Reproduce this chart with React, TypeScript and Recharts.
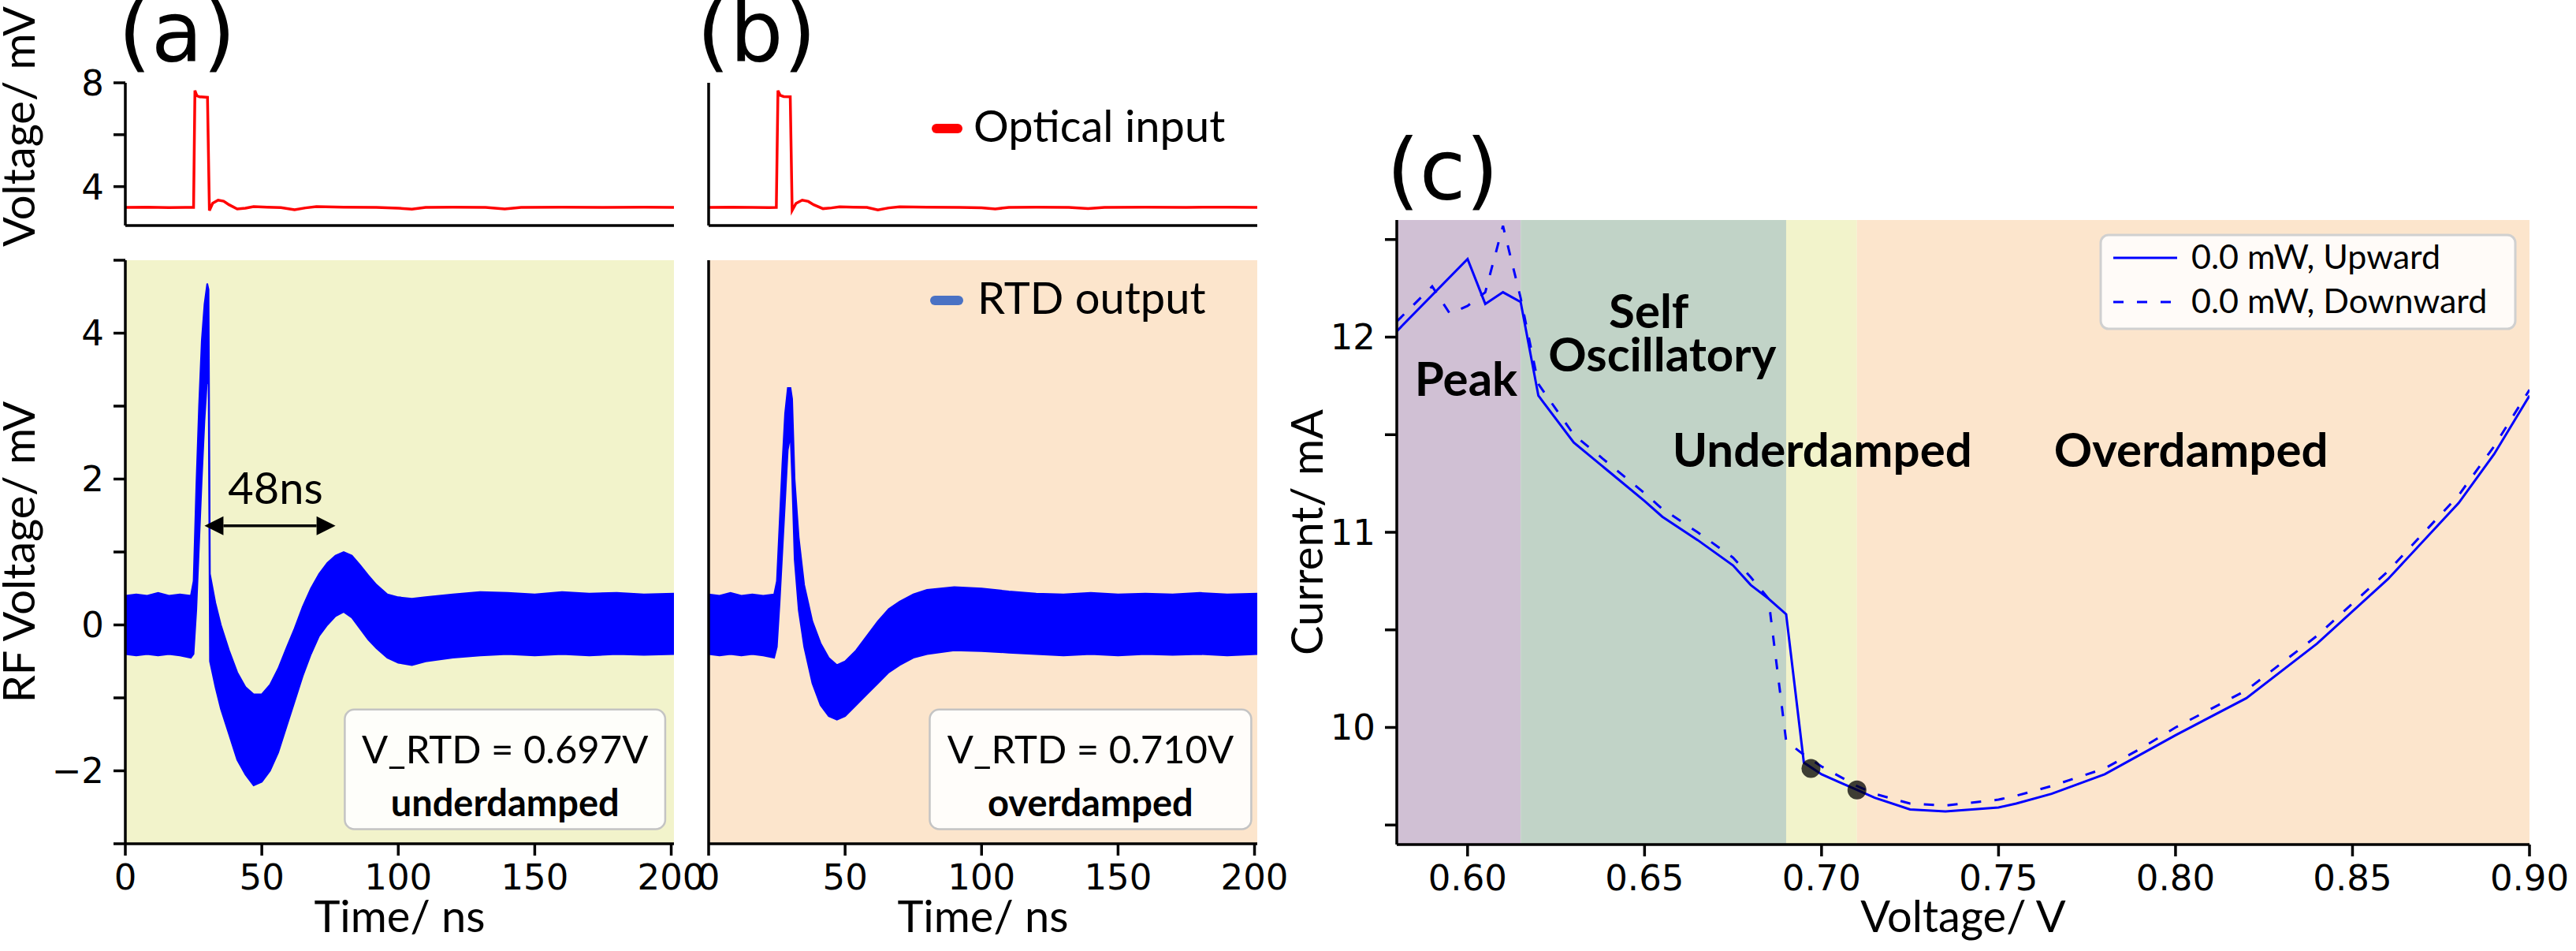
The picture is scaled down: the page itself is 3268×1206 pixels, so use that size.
import React from "react";
import {
  ComposedChart, Line, Area, XAxis, YAxis, CartesianGrid,
  ReferenceArea, ReferenceDot, ReferenceLine, Legend,
} from "recharts";

// optical input traces (ns, mV)
const optTimeA = [0, 8, 16, 22, 25.0, 25.5, 26.2, 27.2, 30.1, 30.8, 32, 34, 36, 38, 41, 44, 47, 52, 57, 62, 66, 70, 80, 92, 100, 105, 110, 120, 132, 139, 145, 160, 175, 190, 201];
const optVoltA = [3.2, 3.21, 3.19, 3.2, 3.2, 7.7, 7.5, 7.46, 7.44, 3.08, 3.36, 3.48, 3.44, 3.3, 3.14, 3.17, 3.23, 3.21, 3.19, 3.11, 3.18, 3.23, 3.21, 3.2, 3.17, 3.13, 3.2, 3.21, 3.2, 3.14, 3.2, 3.21, 3.2, 3.21, 3.2];
const optTimeB = [0, 8, 16, 22, 24.8, 25.4, 26.2, 27.5, 29.9, 30.6, 32, 34.3, 36.5, 38.5, 41.9, 45, 48, 53, 58, 62, 66, 70, 80, 92, 100, 105, 110, 120, 132, 139, 145, 160, 175, 190, 201];
const optVoltB = [3.2, 3.21, 3.2, 3.19, 3.2, 7.7, 7.52, 7.47, 7.46, 3.08, 3.35, 3.48, 3.43, 3.3, 3.15, 3.18, 3.22, 3.21, 3.2, 3.1, 3.18, 3.22, 3.21, 3.2, 3.18, 3.14, 3.2, 3.21, 3.2, 3.15, 3.2, 3.21, 3.2, 3.21, 3.2];

// RTD output: upper / lower edge of the noisy trace (ns, mV)
const rtdTimeA = [0, 4, 8, 12, 16, 20, 24, 25, 26, 27, 28, 29, 30, 30.5, 31, 33, 35, 38, 41, 44, 47, 50, 53, 56, 59, 62, 65, 68, 71, 74, 77, 80, 83, 86, 89, 92, 96, 100, 105, 110, 120, 130, 140, 150, 160, 170, 180, 190, 201];
const rtdUpA = [0.4, 0.42, 0.4, 0.44, 0.4, 0.42, 0.4, 0.6, 1.9, 3.0, 3.9, 4.4, 4.68, 4.6, 0.7, 0.3, 0.0, -0.35, -0.65, -0.85, -0.95, -0.95, -0.82, -0.6, -0.32, -0.05, 0.25, 0.5, 0.7, 0.85, 0.95, 1.0, 0.95, 0.82, 0.68, 0.55, 0.42, 0.38, 0.36, 0.38, 0.42, 0.45, 0.44, 0.42, 0.45, 0.43, 0.44, 0.42, 0.43];
const rtdLoA = [-0.4, -0.42, -0.4, -0.42, -0.4, -0.42, -0.45, -0.4, 0.2, 1.1, 2.0, 2.8, 3.4, 3.3, -0.5, -0.85, -1.15, -1.5, -1.85, -2.05, -2.2, -2.15, -2.0, -1.75, -1.4, -1.05, -0.7, -0.4, -0.15, 0.0, 0.12, 0.18, 0.1, -0.05, -0.2, -0.32, -0.45, -0.52, -0.55, -0.5, -0.45, -0.42, -0.4, -0.42, -0.4, -0.42, -0.4, -0.41, -0.4];
const rtdTimeB = [0, 4, 8, 12, 16, 20, 24, 25, 26, 27, 28, 29, 30, 30.6, 31.5, 33, 35, 38, 41, 44, 47, 50, 54, 58, 62, 66, 70, 75, 80, 90, 100, 110, 120, 130, 140, 150, 160, 170, 180, 190, 201];
const rtdUpB = [0.42, 0.4, 0.44, 0.4, 0.42, 0.4, 0.42, 0.6, 1.4, 2.2, 2.9, 3.25, 3.25, 3.1, 2.0, 1.2, 0.55, 0.05, -0.25, -0.45, -0.55, -0.5, -0.35, -0.15, 0.05, 0.22, 0.32, 0.42, 0.48, 0.52, 0.5, 0.46, 0.43, 0.42, 0.44, 0.42, 0.43, 0.42, 0.44, 0.42, 0.43];
const rtdLoB = [-0.4, -0.42, -0.4, -0.42, -0.4, -0.42, -0.45, -0.3, 0.3, 1.0, 1.7, 2.4, 2.6, 2.0, 0.9, 0.2, -0.3, -0.8, -1.1, -1.25, -1.3, -1.25, -1.1, -0.95, -0.8, -0.65, -0.55, -0.45, -0.4, -0.35, -0.36, -0.38, -0.4, -0.42, -0.4, -0.42, -0.4, -0.41, -0.4, -0.42, -0.4];

// (c) I-V sweep (V, mA)
const sweepVUp = [0.58, 0.6, 0.605, 0.61, 0.615, 0.62, 0.63, 0.64, 0.65, 0.655, 0.665, 0.675, 0.68, 0.685, 0.69, 0.695, 0.7, 0.705, 0.71, 0.715, 0.725, 0.735, 0.75, 0.755, 0.765, 0.78, 0.79, 0.8, 0.82, 0.84, 0.86, 0.88, 0.89, 0.9];
const sweepIUp = [12.03, 12.4, 12.17, 12.23, 12.18, 11.7, 11.46, 11.31, 11.16, 11.08, 10.96, 10.83, 10.73, 10.66, 10.58, 9.82, 9.76, 9.72, 9.68, 9.64, 9.58, 9.57, 9.59, 9.61, 9.66, 9.76, 9.86, 9.96, 10.15, 10.43, 10.76, 11.15, 11.4, 11.7];
const sweepVDown = [0.58, 0.59, 0.595, 0.6, 0.605, 0.61, 0.615, 0.62, 0.63, 0.64, 0.65, 0.655, 0.665, 0.675, 0.68, 0.685, 0.69, 0.695, 0.7, 0.705, 0.71, 0.715, 0.725, 0.735, 0.75, 0.755, 0.765, 0.78, 0.79, 0.8, 0.82, 0.84, 0.86, 0.88, 0.89, 0.9];
const sweepIDown = [12.08, 12.26, 12.12, 12.16, 12.23, 12.57, 12.2, 11.76, 11.5, 11.35, 11.2, 11.12, 11.0, 10.87, 10.77, 10.66, 9.93, 9.86, 9.8, 9.75, 9.7, 9.66, 9.61, 9.6, 9.63, 9.65, 9.7, 9.79, 9.89, 10.0, 10.19, 10.47, 10.8, 11.19, 11.44, 11.73];
const biasV = [0.697, 0.71];
const biasI = [9.79, 9.68];
const regionEdges = [0.58, 0.615, 0.69, 0.71, 0.9];
const regionColors = ["#d0c0d4", "#c1d3c7", "#f2f3cb", "#fce5cc"];

const timeTicks = [0, 50, 100, 150, 200];
const optTicks = [4, 6, 8];
const rfTicks = [-3, -2, -1, 0, 1, 2, 3, 4, 5];
const vTicks = [0.6, 0.65, 0.7, 0.75, 0.8, 0.85, 0.9];
const iTicks = [9.5, 10, 10.5, 11, 11.5, 12, 12.5];

const BLACK = "#000";
const SANS = "Lato, 'Open Sans', sans-serif";
const spine = { stroke: BLACK, strokeWidth: 3.5 };
const tickLn = { stroke: BLACK, strokeWidth: 3.5 };
const tickTxt = { fontFamily: "DejaVu Sans", fontSize: 45, fill: BLACK };
const minus = (v: number) => (v < 0 ? "\u2212" + Math.abs(v) : String(v));

const PW = 696; // width of the (a)/(b) axes

function YTitle({ viewBox, text, dx = 44, dy = 0 }: any) {
  const x = viewBox.x + dx;
  const y = viewBox.y + viewBox.height / 2 + dy;
  return (
    <text x={x} y={y} transform={`rotate(-90 ${x} ${y})`} textAnchor="middle"
      style={{ fontFamily: SANS, fontSize: 56, fill: BLACK }}>{text}</text>
  );
}

function XTitle({ viewBox, text, dy = 112 }: any) {
  return (
    <text x={viewBox.x + viewBox.width / 2} y={viewBox.y + dy} textAnchor="middle"
      style={{ fontFamily: SANS, fontSize: 56, fill: BLACK }}>{text}</text>
  );
}

const textShape = (s: string, style: React.CSSProperties) => (p: any) => (
  <text x={p.cx} y={p.cy} textAnchor="middle" style={style}>{s}</text>
);

function DoubleArrow(p: any) {
  const { x1, y1, x2, y2 } = p;
  const h = 24, w = 12;
  return (
    <g>
      <line x1={x1 + h} y1={y1} x2={x2 - h} y2={y2} stroke={BLACK} strokeWidth={3.5} />
      <polygon points={`${x1},${y1} ${x1 + h},${y1 - w} ${x1 + h},${y1 + w}`} fill={BLACK} />
      <polygon points={`${x2},${y2} ${x2 - h},${y2 - w} ${x2 - h},${y2 + w}`} fill={BLACK} />
    </g>
  );
}

function HandleLegend({ color, label, lineY, x1, x2, textX, textY }: any) {
  return (
    <svg width={420} height={100} style={{ display: "block" }}>
      <line x1={x1} x2={x2} y1={lineY} y2={lineY} stroke={color} strokeWidth={12} strokeLinecap="round" />
      <text x={textX} y={textY} style={{ fontFamily: SANS, fontSize: 56, fill: BLACK }}>{label}</text>
    </svg>
  );
}

function OpticalPanel({ left, time, volt, yw, labels, legend }: any) {
  const data = time.map((t: number, i: number) => ({ t, v: volt[i] }));
  const H = 181, MT = 105, MR = 50, XH = 45;
  return (
    <div style={{ position: "absolute", left: left - yw, top: 105 - MT }}>
      <ComposedChart width={yw + PW + MR} height={MT + H + XH} data={data}
        margin={{ top: MT, right: MR, left: 0, bottom: 0 }}>
        <XAxis dataKey="t" type="number" domain={[0, 201]} ticks={timeTicks} interval={0}
          tick={false} tickSize={15} tickLine={tickLn} axisLine={spine} height={XH} allowDataOverflow />
        <XAxis xAxisId="top" orientation="top" type="number" domain={[0, 201]}
          tick={false} tickLine={false} axisLine={spine} height={0} />
        <YAxis type="number" domain={[2.5, 8]} ticks={optTicks} interval={0}
          tickFormatter={(v: number) => (v === 6 ? "" : String(v))}
          tick={labels ? tickTxt : false} tickSize={15} tickMargin={12} tickLine={tickLn}
          axisLine={spine} width={yw} allowDataOverflow
          label={labels ? <YTitle text="Voltage/ mV" dx={44} dy={-35} /> : undefined} />
        <YAxis yAxisId="right" orientation="right" type="number" domain={[2.5, 8]}
          tick={false} tickLine={false} axisLine={spine} width={0} />
        <Line dataKey="v" type="linear" stroke="#ff0000" strokeWidth={3.5} dot={false} isAnimationActive={false} />
        {legend}
      </ComposedChart>
    </div>
  );
}

function RtdPanel({ left, time, up, lo, yw, labels, bg, children }: any) {
  const data = time.map((t: number, i: number) => ({ t, band: [lo[i], up[i]] }));
  const H = 740, MT = 5, MR = 50, XH = 136;
  return (
    <div style={{ position: "absolute", left: left - yw, top: 330 - MT }}>
      <ComposedChart width={yw + PW + MR} height={MT + H + XH} data={data}
        margin={{ top: MT, right: MR, left: 0, bottom: 0 }}>
        <CartesianGrid fill={bg} horizontal={false} vertical={false} stroke="none" />
        <XAxis dataKey="t" type="number" domain={[0, 201]} ticks={timeTicks} interval={0}
          tick={tickTxt} tickSize={15} tickMargin={11} tickLine={tickLn} axisLine={spine}
          height={XH} allowDataOverflow label={<XTitle text="Time/ ns" dy={112} />} />
        <XAxis xAxisId="top" orientation="top" type="number" domain={[0, 201]}
          tick={false} tickLine={false} axisLine={spine} height={0} />
        <YAxis type="number" domain={[-3, 5]} ticks={rfTicks} interval={0}
          tickFormatter={(v: number) => (v % 2 === 0 ? minus(v) : "")}
          tick={labels ? tickTxt : false} tickSize={15} tickMargin={12} tickLine={tickLn}
          axisLine={spine} width={yw} allowDataOverflow
          label={labels ? <YTitle text="RF Voltage/ mV" dx={44} /> : undefined} />
        <YAxis yAxisId="right" orientation="right" type="number" domain={[-3, 5]}
          tick={false} tickLine={false} axisLine={spine} width={0} />
        <Area dataKey="band" type="linear" stroke="#0000ff" strokeWidth={2} fill="#0000ff"
          fillOpacity={1} isAnimationActive={false} />
        {children}
      </ComposedChart>
    </div>
  );
}

function StateBox({ t1, t2, line1, line2 }: any) {
  const mid = (t1 + t2) / 2;
  return [
    <ReferenceArea key="box" x1={t1} x2={t2} y1={-2.8} y2={-1.16} fill="#ffffff" fillOpacity={0.9}
      stroke="#c4c4c4" strokeWidth={2.5} radius={12} />,
    <ReferenceDot key="l1" x={mid} y={-1.9} r={1}
      shape={textShape(line1, { fontFamily: SANS, fontSize: 49, fill: BLACK })} />,
    <ReferenceDot key="l2" x={mid} y={-2.62} r={1}
      shape={textShape(line2, { fontFamily: SANS, fontSize: 47, fontWeight: 700, fill: BLACK })} />,
  ];
}

const regionTxt = { fontFamily: SANS, fontSize: 60, fontWeight: 700, fill: BLACK };

function IVPanel() {
  const up = sweepVUp.map((v, k) => ({ v, i: sweepIUp[k] }));
  const down = sweepVDown.map((v, k) => ({ v, i: sweepIDown[k] }));
  const W = 1437, H = 792, YW = 172, MT = 5, MR = 55, XH = 135;
  return (
    <div style={{ position: "absolute", left: 1772 - YW, top: 279 - MT }}>
      <ComposedChart width={YW + W + MR} height={MT + H + XH}
        margin={{ top: MT, right: MR, left: 0, bottom: 0 }}>
        {regionColors.map((c, k) => (
          <ReferenceArea key={k} x1={regionEdges[k]} x2={regionEdges[k + 1]} fill={c} fillOpacity={1} stroke="none" />
        ))}
        <XAxis dataKey="v" type="number" domain={[0.58, 0.9]} ticks={vTicks} interval={0}
          tickFormatter={(v: number) => v.toFixed(2)} tick={tickTxt} tickSize={15} tickMargin={11}
          tickLine={tickLn} axisLine={spine} height={XH} allowDataOverflow
          label={<XTitle text="Voltage/ V" dy={111} />} />
        <XAxis xAxisId="top" orientation="top" type="number" domain={[0.58, 0.9]}
          tick={false} tickLine={false} axisLine={spine} height={0} />
        <YAxis type="number" domain={[9.4, 12.6]} ticks={iTicks} interval={0}
          tickFormatter={(v: number) => (Number.isInteger(v) ? String(v) : "")}
          tick={tickTxt} tickSize={15} tickMargin={12} tickLine={tickLn} axisLine={spine}
          width={YW} allowDataOverflow label={<YTitle text="Current/ mA" dx={78} />} />
        <YAxis yAxisId="right" orientation="right" type="number" domain={[9.4, 12.6]}
          tick={false} tickLine={false} axisLine={spine} width={0} />
        <Line data={up} dataKey="i" type="linear" stroke="#0000ff" strokeWidth={3} dot={false} isAnimationActive={false} />
        <Line data={down} dataKey="i" type="linear" stroke="#0000ff" strokeWidth={3} strokeDasharray="13 17"
          dot={false} isAnimationActive={false} />
        {biasV.map((v, k) => (
          <ReferenceDot key={k} x={v} y={biasI[k]} r={12} fill="#000" fillOpacity={0.75} stroke="none" />
        ))}
        <ReferenceDot x={0.5996} y={11.698} r={1} shape={textShape("Peak", regionTxt)} />
        <ReferenceDot x={0.6512} y={12.046} r={1} shape={textShape("Self", regionTxt)} />
        <ReferenceDot x={0.655} y={11.823} r={1} shape={textShape("Oscillatory", regionTxt)} />
        <ReferenceDot x={0.7002} y={11.334} r={1} shape={textShape("Underdamped", regionTxt)} />
        <ReferenceDot x={0.8044} y={11.334} r={1} shape={textShape("Overdamped", regionTxt)} />
        <Legend layout="horizontal" verticalAlign="middle" align="center"
          wrapperStyle={{ left: 1060, top: 19, width: 540, height: 130 }}
          content={() => (
            <svg width={540} height={130} style={{ display: "block" }}>
              <rect x={5} y={5} width={526} height={119} rx={10} fill="#ffffff" fillOpacity={0.85}
                stroke="#d0d0d0" strokeWidth={3} />
              <line x1={21} x2={102} y1={34} y2={34} stroke="#0000ff" strokeWidth={3} />
              <line x1={21} x2={102} y1={90} y2={90} stroke="#0000ff" strokeWidth={3} strokeDasharray="13 17" />
              <text x={120} y={48} style={{ fontFamily: SANS, fontSize: 43, fill: BLACK }}>0.0 mW, Upward</text>
              <text x={120} y={104} style={{ fontFamily: SANS, fontSize: 43, fill: BLACK }}>0.0 mW, Downward</text>
            </svg>
          )} />
      </ComposedChart>
    </div>
  );
}

export default function App() {
  const letter = { fontFamily: "DejaVu Sans", fontSize: 107, fill: BLACK };
  return (
    <div style={{ position: "absolute", left: 0, top: 0, width: 3268, height: 1206, background: "#fff", overflow: "hidden" }}>
      <OpticalPanel left={159} time={optTimeA} volt={optVoltA} yw={159} labels />
      <RtdPanel left={159} time={rtdTimeA} up={rtdUpA} lo={rtdLoA} yw={159} labels bg="#f2f3cb">
        <ReferenceLine segment={[{ x: 29, y: 1.36 }, { x: 77, y: 1.36 }]} stroke={BLACK} shape={DoubleArrow} />
        <ReferenceDot x={55} y={1.66} r={1} shape={textShape("48ns", { fontFamily: SANS, fontSize: 56, fill: BLACK })} />
        {StateBox({ t1: 80.4, t2: 197.8, line1: "V_RTD = 0.697V", line2: "underdamped" })}
      </RtdPanel>
      <OpticalPanel left={899} time={optTimeB} volt={optVoltB} yw={40}
        legend={
          <Legend layout="horizontal" verticalAlign="middle" align="center"
            wrapperStyle={{ left: 311, top: 110, width: 420, height: 100 }}
            content={() => <HandleLegend color="#ff0000" label="Optical input" lineY={53} x1={18} x2={45} textX={65} textY={70} />} />
        } />
      <RtdPanel left={899} time={rtdTimeB} up={rtdUpB} lo={rtdLoB} yw={40} bg="#fce5cc">
        <Legend layout="horizontal" verticalAlign="middle" align="center"
          wrapperStyle={{ left: 311, top: 10, width: 420, height: 100 }}
          content={() => <HandleLegend color="#4a72c4" label="RTD output" lineY={46} x1={16} x2={46} textX={70} textY={63} />} />
        {StateBox({ t1: 81, t2: 198.8, line1: "V_RTD = 0.710V", line2: "overdamped" })}
      </RtdPanel>
      <IVPanel />
      <svg width={3268} height={1206} style={{ position: "absolute", left: 0, top: 0, pointerEvents: "none" }}>
        <text x={150} y={77} style={letter}>(a)</text>
        <text x={884} y={77} style={letter}>(b)</text>
        <text x={1759} y={252} style={letter}>(c)</text>
      </svg>
    </div>
  );
}
